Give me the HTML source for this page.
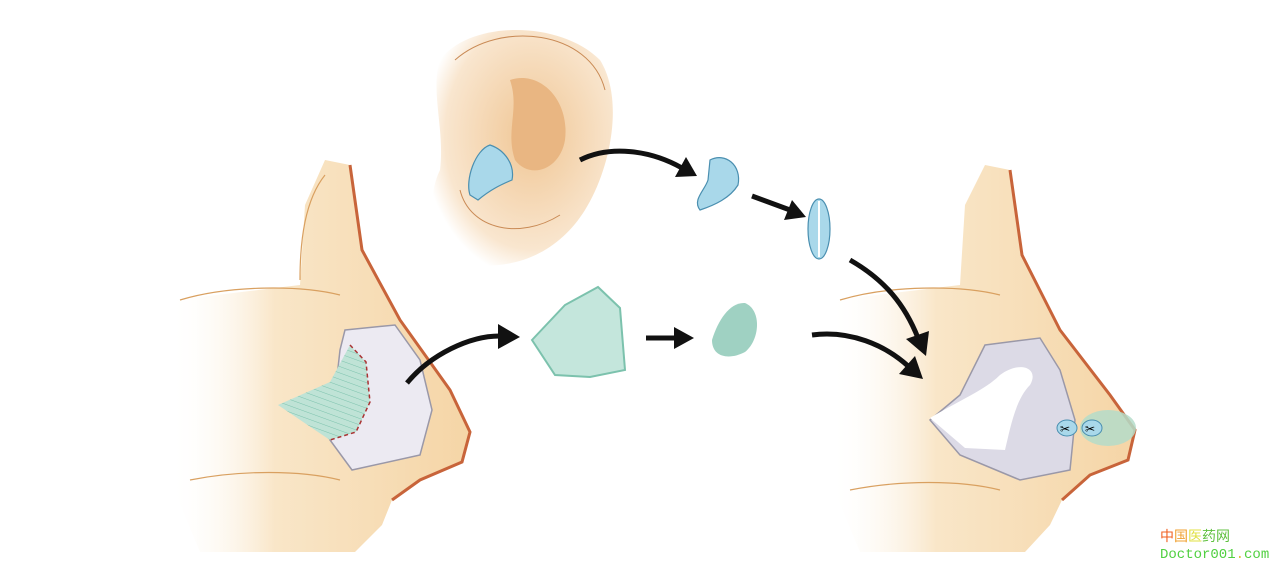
<!DOCTYPE html>
<html><head><meta charset="utf-8"><style>
html,body{margin:0;padding:0;background:#fff;width:1276px;height:572px;overflow:hidden}
.wm{position:absolute;left:1160px;top:530px;font:14px "Liberation Mono","Noto Sans CJK SC",monospace;line-height:17px}
</style></head><body>
<svg width="1276" height="572" style="position:absolute;left:0;top:0">
<defs>
<linearGradient id="skin" x1="0" x2="1" y1="0" y2="0">
<stop offset="0" stop-color="#fff" stop-opacity="0"/><stop offset="0.35" stop-color="#f9e6c8"/><stop offset="1" stop-color="#f5d5a6"/></linearGradient>
<radialGradient id="ear" cx="0.55" cy="0.45" r="0.6">
<stop offset="0" stop-color="#f0c694"/><stop offset="0.8" stop-color="#f9e6cf"/><stop offset="1" stop-color="#fff"/></radialGradient>
<pattern id="hatch" width="6" height="6" patternUnits="userSpaceOnUse" patternTransform="rotate(20)">
<rect width="6" height="6" fill="#bfe3d6"/><line x1="0" y1="0" x2="6" y2="0" stroke="#7cc2ad" stroke-width="1"/></pattern>
</defs>
<!-- left nose -->
<path d="M175,300 L300,285 L305,205 L325,160 L350,165 L362,250 L400,320 L450,390 L470,432 L462,462 L420,480 L392,500 L382,525 L355,552 L200,552 L170,480 Z" fill="url(#skin)"/>
<path d="M350,165 L362,250 L400,320 L450,390 L470,432 L462,462 L420,480 L392,500" fill="none" stroke="#c8643a" stroke-width="3"/>
<path d="M180,300 C230,285 300,285 340,295 M190,480 C240,470 300,470 340,480 M300,280 C300,240 305,200 325,175" fill="none" stroke="#d9a060" stroke-width="1.2"/>
<path d="M345,330 L395,325 L420,360 L432,410 L420,455 L352,470 L330,440 L340,350 Z" fill="#eceaf2" stroke="#9a98a8" stroke-width="1.5"/>
<path d="M278,405 L330,382 L350,345 L366,362 L370,402 L356,432 L330,440 L315,430 Z" fill="url(#hatch)"/>
<path d="M350,345 L366,362 L370,402 L356,432 L330,440" fill="none" stroke="#a33" stroke-width="1.5" stroke-dasharray="4,3"/>
<!-- ear -->
<path d="M440,60 C470,20 560,20 600,60 C625,100 610,170 585,210 C560,250 520,270 470,265 C430,255 425,200 440,170 C445,130 430,90 440,60 Z" fill="url(#ear)"/>
<path d="M510,80 C540,70 570,100 565,140 C560,170 530,180 515,160 C505,130 520,110 510,80 Z" fill="#e9b682"/>
<path d="M470,195 C465,180 475,150 490,145 C505,150 515,165 512,180 C500,185 490,190 478,200 Z" fill="#a9d8ea" stroke="#4a8fb0" stroke-width="1.2"/>
<path d="M455,60 C500,20 590,30 605,90 M460,190 C470,230 520,240 560,215" fill="none" stroke="#c98a55" stroke-width="1"/>
<!-- pieces -->
<path d="M710,160 C725,152 742,165 738,185 C730,198 715,205 700,210 C692,200 705,190 708,180 Z" fill="#a9d8ea" stroke="#4a8fb0" stroke-width="1.2"/>
<ellipse cx="819" cy="229" rx="11" ry="30" fill="#a9d8ea" stroke="#4a8fb0" stroke-width="1.2"/>
<line x1="819" y1="201" x2="819" y2="257" stroke="#fff" stroke-width="2"/>
<path d="M532,340 L565,305 L598,287 L620,308 L625,370 L590,377 L555,375 Z" fill="#c4e6dc" stroke="#7cc2ad" stroke-width="2"/>
<path d="M712,340 C718,320 730,302 745,303 C762,310 760,340 745,352 C730,360 712,358 712,340 Z" fill="#9fd1c2"/>
<!-- right nose -->
<path d="M835,300 L960,285 L965,205 L985,165 L1010,170 L1022,255 L1060,330 L1110,395 L1135,430 L1128,460 L1090,475 L1062,500 L1050,525 L1025,552 L860,552 L830,480 Z" fill="url(#skin)"/>
<path d="M1010,170 L1022,255 L1060,330 L1110,395 L1135,430 L1128,460 L1090,475 L1062,500" fill="none" stroke="#c8643a" stroke-width="3"/>
<path d="M840,300 C890,285 960,285 1000,295 M850,490 C900,480 960,480 1000,490" fill="none" stroke="#d9a060" stroke-width="1.2"/>
<path d="M985,345 L1040,338 L1060,370 L1075,420 L1070,470 L1020,480 L960,455 L930,420 L960,395 Z" fill="#dcdae6" stroke="#9a98a8" stroke-width="1.5"/>
<path d="M930,418 C960,400 985,390 1000,375 C1020,360 1040,368 1030,385 C1015,400 1010,430 1005,450 L965,448 Z" fill="#fff"/>
<ellipse cx="1108" cy="428" rx="28" ry="18" fill="#b4dcc9" opacity="0.85"/>
<ellipse cx="1067" cy="428" rx="10" ry="8" fill="#a9d8ea" stroke="#4a8fb0"/>
<ellipse cx="1092" cy="428" rx="10" ry="8" fill="#a9d8ea" stroke="#4a8fb0"/>
<text x="1060" y="433" font-size="12" font-family="DejaVu Sans">✂</text>
<text x="1085" y="433" font-size="12" font-family="DejaVu Sans">✂</text>
<!-- arrows -->
<g fill="none" stroke="#111" stroke-width="5">
<path d="M407,383 C430,355 470,335 502,336"/>
<path d="M580,160 C610,145 650,150 682,168"/>
<path d="M752,196 L790,210"/>
<path d="M646,338 L676,338"/>
<path d="M850,260 C885,280 905,305 918,338"/>
<path d="M812,335 C850,330 885,345 908,366"/>
</g>
<g fill="#111">
<polygon points="498,324 520,337 498,349"/>
<polygon points="697,176 675,177 686,157"/>
<polygon points="806,217 784,220 792,200"/>
<polygon points="694,338 674,327 674,349"/>
<polygon points="926,356 906,339 929,331"/>
<polygon points="923,379 899,374 915,356"/>
</g>
</svg>
<div class="wm"><span style="color:#f06020">中</span><span style="color:#f0a030">国</span><span style="color:#e0e040">医</span><span style="color:#60c040">药网</span><br><span style="color:#50d040">Doctor001</span><span style="color:#e0c040">.</span><span style="color:#50d040">com</span></div>
</body></html>
